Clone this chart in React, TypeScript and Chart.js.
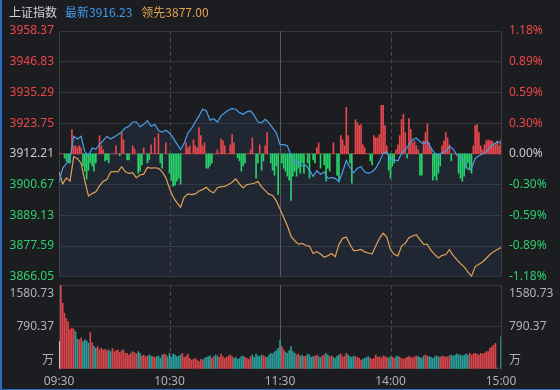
import React, { useEffect, useRef } from 'react';
import { Chart, registerables } from 'chart.js';

Chart.register(...registerables);

// ---------------- DATA ----------------
const INDEX_NAME = '上证指数';
const LAST_TEXT = '最新3916.23';
const LEAD_TEXT = '领先3877.00';

const priceTicks = [3866.05, 3877.59, 3889.13, 3900.67, 3912.21, 3923.75, 3935.29, 3946.83, 3958.37];
const priceTickLabels = ['3866.05', '3877.59', '3889.13', '3900.67', '3912.21', '3923.75', '3935.29', '3946.83', '3958.37'];
const pctTickLabels = ['-1.18%', '-0.89%', '-0.59%', '-0.30%', '0.00%', '0.30%', '0.59%', '0.89%', '1.18%'];
const BASE_INDEX = 4; // position of previous close in the tick list

const timeTicks = [0, 60, 120, 180, 240];
const timeLabels = ['09:30', '10:30', '11:30', '14:00', '15:00'];

const VOL_MAX = 1580.73;
const volTicks = [0, 790.37, 1580.73];
const volTickLabels = ['万', '790.37', '1580.73'];

const LINE_STEP = 2; // minutes between line samples

// 上证指数 (blue), every 2 minutes from 09:30
const indexLine = [
  3901.5, 3906.8, 3908.7, 3910.6, 3918.8, 3917.8, 3918.8, 3913.1, 3911.5, 3914.4,
  3914.0, 3915.7, 3917.3, 3918.8, 3917.8, 3918.6, 3919.5, 3920.4, 3922.0, 3922.6,
  3924.2, 3924.2, 3922.4, 3923.3, 3924.7, 3922.6, 3923.3, 3921.0, 3920.4, 3921.1,
  3920.1, 3918.2, 3916.0, 3913.8, 3916.3, 3920.1, 3921.8, 3924.2, 3926.5, 3929.0,
  3928.4, 3924.9, 3925.4, 3924.2, 3926.5, 3927.7, 3928.7, 3929.2, 3929.0, 3927.7,
  3927.1, 3928.0, 3928.4, 3926.7, 3924.2, 3923.9, 3925.2, 3923.9, 3922.0, 3920.1,
  3915.7, 3915.7, 3915.3, 3911.5, 3908.9, 3909.3, 3907.7, 3908.0, 3906.1, 3903.8,
  3905.9, 3904.6, 3905.5, 3903.0, 3903.3, 3903.0, 3901.7, 3905.5, 3909.7, 3907.2,
  3905.1, 3906.8, 3907.4, 3905.5, 3904.9, 3905.5, 3906.8, 3909.3, 3912.5, 3912.9,
  3910.0, 3910.0, 3909.6, 3912.5, 3913.7, 3915.7, 3917.6, 3918.2, 3916.9, 3916.0,
  3916.9, 3914.4, 3912.5, 3911.5, 3912.7, 3913.1, 3915.0, 3914.1, 3911.8, 3911.2,
  3909.3, 3906.4, 3906.8, 3910.6, 3911.5, 3912.2, 3913.0, 3914.8, 3915.7, 3916.8,
  3916.23,
];

// 领先指标 (orange), every 2 minutes from 09:30
const leadLine = [
  3905.5, 3901.0, 3903.2, 3902.0, 3911.2, 3910.4, 3908.7, 3902.1, 3896.4, 3897.3,
  3898.0, 3900.2, 3901.9, 3902.6, 3905.4, 3905.6, 3905.5, 3907.4, 3905.5, 3904.9,
  3905.2, 3903.3, 3904.3, 3904.6, 3907.1, 3906.9, 3907.0, 3906.8, 3905.5, 3903.3,
  3899.2, 3896.0, 3893.9, 3892.2, 3896.0, 3897.2, 3896.9, 3897.2, 3898.3, 3898.8,
  3899.7, 3898.3, 3897.6, 3899.5, 3899.9, 3900.0, 3900.7, 3901.6, 3902.8, 3900.9,
  3899.4, 3900.7, 3900.9, 3901.2, 3901.8, 3899.8, 3898.4, 3897.1, 3896.6, 3894.6,
  3891.5, 3888.4, 3885.2, 3881.2, 3879.6, 3878.3, 3878.6, 3877.8, 3877.6, 3874.8,
  3875.5, 3874.6, 3873.4, 3874.0, 3874.8, 3873.6, 3878.2, 3880.5, 3881.0, 3878.2,
  3875.9, 3876.0, 3876.3, 3875.4, 3875.0, 3874.6, 3877.6, 3880.5, 3882.4, 3881.0,
  3876.2, 3874.5, 3873.9, 3877.6, 3878.6, 3880.7, 3881.4, 3881.9, 3880.0, 3878.3,
  3878.2, 3876.0, 3874.5, 3873.1, 3874.1, 3874.4, 3876.2, 3874.1, 3872.5, 3871.0,
  3869.8, 3867.9, 3866.3, 3869.9, 3870.8, 3871.6, 3873.0, 3874.4, 3875.5, 3876.3,
  3877.0,
];

// buy / sell strength bars, one per minute (positive = red, negative = green)
const strength = [
  0, 0, 0, -4, -7, -9, -9, 24, 8, 8,
  6, 8, 6, -12, -17, -25, -16, -9, -12, -17,
  -9, 0, 18, 8, 4, -7, -6, -9, 0, 0,
  0, 8, 0, -2, 21, 14, 0, -6, -6, 0,
  8, 5, 0, -19, -17, -11, 6, 0, -9, -6,
  9, 0, 16, 0, 20, -9, -14, 0, 11, 0,
  -19, -26, -32, -31, -27, -24, -30, 0, 0, 11,
  6, 8, 0, 14, 8, 6, 26, 18, 8, 11,
  -14, -14, -12, -9, 0, 0, 4, 0, 15, 13,
  8, 0, 0, 9, 19, 11, 0, -4, -7, -17,
  -12, -9, 0, 0, 4, 16, 0, -24, -9, 9,
  -16, -7, 8, 21, 0, -9, -16, -21, -12, -40,
  0, -9, -14, -17, -22, -26, -46, -22, -17, -22,
  -14, -19, -9, -19, 0, -9, -24, 0, -6, -9,
  6, 11, -14, 0, -11, -27, -14, -17, 0, 11,
  0, -21, -26, 18, 14, 8, 46, 18, -9, -29,
  0, 34, 31, 28, 29, 9, 6, 0, 0, -7,
  -11, 18, 16, 16, 19, 48, 48, 28, 8, -16,
  -24, -12, -9, 4, 9, 18, 34, 39, 21, -4,
  35, 24, 11, 13, 8, 4, -21, -21, 13, 21,
  30, 11, 6, -26, -22, -26, -19, -12, 8, 13,
  21, 16, 9, -7, 0, 0, 0, -19, -24, -27,
  -22, -14, -9, -16, -19, 8, 28, 29, 21, 8,
  4, 9, 13, 14, 13, 13, 11, 9, 13, 8,
  14,
];

// volume per minute (万)
const volume = [
  515, 1581, 1240, 1050, 950, 890, 740, 770, 750, 700,
  560, 545, 580, 515, 546, 530, 483, 684, 496, 433,
  390, 420, 358, 389, 358, 370, 345, 358, 326, 389,
  326, 345, 358, 307, 345, 358, 295, 295, 264, 295,
  326, 307, 282, 326, 295, 245, 264, 232, 245, 264,
  245, 232, 220, 232, 245, 201, 264, 282, 264, 232,
  295, 220, 282, 264, 232, 245, 264, 295, 220, 245,
  282, 201, 169, 182, 201, 169, 138, 182, 169, 201,
  220, 232, 250, 201, 232, 264, 245, 220, 282, 232,
  201, 220, 245, 264, 232, 201, 220, 182, 201, 232,
  245, 220, 201, 182, 232, 264, 220, 282, 245, 232,
  264, 245, 232, 220, 264, 295, 282, 320, 345, 390,
  545, 420, 358, 320, 295, 345, 420, 326, 295, 264,
  282, 245, 264, 232, 245, 282, 264, 220, 232, 245,
  264, 232, 220, 245, 264, 295, 264, 232, 245, 220,
  201, 245, 264, 282, 232, 245, 295, 264, 232, 220,
  245, 232, 220, 201, 169, 182, 201, 220, 232, 201,
  182, 201, 264, 220, 232, 201, 245, 232, 220, 201,
  232, 220, 201, 232, 245, 220, 201, 182, 201, 220,
  232, 220, 201, 232, 245, 232, 220, 201, 245, 264,
  245, 232, 220, 201, 232, 245, 232, 220, 245, 232,
  220, 232, 245, 264, 245, 264, 282, 264, 264, 245,
  264, 282, 264, 295, 264, 282, 295, 282, 264, 295,
  282, 295, 326, 326, 389, 420, 452, 483, 20, 0,
  609,
];

const sessionMarks = [
  { minute: 60, solid: false },
  { minute: 120, solid: true },
  { minute: 180, solid: false },
];

// ---------------- STYLE ----------------
const BG = '#1c1d21';
const GRID = '#313439';
const FRAME = '#3a3d42';
const RED = '#ef4646';
const GREEN = '#2ecf6c';
const NEUTRAL = '#c6c9ce';
const AXIS_TXT = '#aeb1b6';
const AXIS_W = 59;
const FONT = '"Noto Sans", "Noto Sans CJK SC", sans-serif';

function tickColor(i: number) {
  if (i === BASE_INDEX) return NEUTRAL;
  return i > BASE_INDEX ? RED : GREEN;
}

function volColor(i: number) {
  if (i === 0) return '#e4e4e4';
  const a = indexLine[Math.floor((i - 1) / LINE_STEP)];
  const b = indexLine[Math.ceil(i / LINE_STEP)];
  return b >= a ? '#d8464b' : '#2a9d99';
}

const sessionPlugin = {
  id: 'sessionLines',
  beforeDatasetsDraw(chart: any) {
    const { ctx, chartArea, scales } = chart;
    const xs = scales.x;
    ctx.save();
    ctx.lineWidth = 1;
    sessionMarks.forEach((m) => {
      const px = Math.round(xs.getPixelForValue(m.minute)) + 0.5;
      ctx.strokeStyle = m.solid ? '#575a60' : '#45484e';
      ctx.setLineDash(m.solid ? [] : [4, 3]);
      ctx.beginPath();
      ctx.moveTo(px, chartArea.top);
      ctx.lineTo(px, chartArea.bottom);
      ctx.stroke();
    });
    ctx.restore();
  },
};

const volLabelPlugin = {
  id: 'volLabels',
  afterDraw(chart: any) {
    const { ctx, chartArea, scales } = chart;
    const ys = scales.y;
    const shifts = [-8, 0, 9];
    ctx.save();
    ctx.font = `12px ${FONT}`;
    ctx.fillStyle = AXIS_TXT;
    ctx.textBaseline = 'middle';
    volTicks.forEach((v, i) => {
      const py = ys.getPixelForValue(v) + shifts[i];
      ctx.textAlign = 'right';
      ctx.fillText(volTickLabels[i], chartArea.left - 5, py);
      ctx.textAlign = 'left';
      ctx.fillText(volTickLabels[i], chartArea.right + 8, py);
    });
    ctx.restore();
  },
};

export default function App() {
  const priceRef = useRef<HTMLCanvasElement>(null);
  const volRef = useRef<HTMLCanvasElement>(null);

  useEffect(() => {
    const font = { family: FONT, size: 12 };
    const priceChart = new Chart(priceRef.current as HTMLCanvasElement, {
      type: 'bar',
      data: {
        datasets: [
          {
            type: 'line',
            label: INDEX_NAME,
            data: indexLine.map((v, i) => ({ x: i * LINE_STEP, y: v })),
            yAxisID: 'y',
            borderColor: '#4a9de6',
            borderWidth: 1.2,
            pointRadius: 0,
            tension: 0,
            fill: 'start',
            backgroundColor: 'rgba(70,130,205,0.10)',
            order: 1,
          } as any,
          {
            type: 'line',
            label: 'lead',
            data: leadLine.map((v, i) => ({ x: i * LINE_STEP, y: v })),
            yAxisID: 'y',
            borderColor: '#e2a254',
            borderWidth: 1.2,
            pointRadius: 0,
            tension: 0,
            fill: false,
            order: 2,
          } as any,
          {
            type: 'bar',
            label: 'strength',
            data: strength.map((v, i) => ({ x: i, y: v })),
            yAxisID: 'ys',
            backgroundColor: (c: any) => (c.raw && c.raw.y >= 0 ? '#e8474b' : '#27d36b'),
            barThickness: 1,
            grouped: false,
            order: 3,
          } as any,
        ],
      },
      options: {
        responsive: false,
        animation: false,
        devicePixelRatio: 1,
        events: [],
        layout: { padding: { top: 31, bottom: 5, left: 0, right: 0 } },
        plugins: {
          legend: { display: false },
          tooltip: { enabled: false },
          filler: { drawTime: 'beforeDatasetsDraw' },
        } as any,
        scales: {
          x: { type: 'linear', min: 0, max: 240, display: false, offset: false },
          y: {
            type: 'linear',
            position: 'left',
            min: priceTicks[0],
            max: priceTicks[priceTicks.length - 1],
            afterBuildTicks: (s: any) => { s.ticks = priceTicks.map((v) => ({ value: v })); },
            afterFit: (s: any) => { s.width = AXIS_W; },
            grid: { color: GRID, drawTicks: false },
            border: { display: true, color: FRAME },
            ticks: {
              padding: 5,
              font,
              color: (c: any) => tickColor(c.index),
              callback: (_v: any, i: number) => priceTickLabels[i],
            },
          },
          yr: {
            type: 'linear',
            position: 'right',
            min: priceTicks[0],
            max: priceTicks[priceTicks.length - 1],
            afterBuildTicks: (s: any) => { s.ticks = priceTicks.map((v) => ({ value: v })); },
            afterFit: (s: any) => { s.width = AXIS_W; },
            grid: { drawOnChartArea: false, drawTicks: false },
            border: { display: true, color: FRAME },
            ticks: {
              padding: 8,
              font,
              color: (c: any) => tickColor(c.index),
              callback: (_v: any, i: number) => pctTickLabels[i],
            },
          },
          ys: { type: 'linear', display: false, min: -121.5, max: 121.5 },
        } as any,
      },
      plugins: [sessionPlugin],
    });

    const volChart = new Chart(volRef.current as HTMLCanvasElement, {
      type: 'bar',
      data: {
        datasets: [
          {
            label: 'volume',
            data: volume.map((v, i) => ({ x: i, y: v })),
            backgroundColor: (c: any) => volColor(c.dataIndex),
            barThickness: 1,
            grouped: false,
          } as any,
        ],
      },
      options: {
        responsive: false,
        animation: false,
        devicePixelRatio: 1,
        events: [],
        layout: { padding: { top: 5, bottom: 0, left: 0, right: 0 } },
        plugins: { legend: { display: false }, tooltip: { enabled: false } },
        scales: {
          x: {
            type: 'linear',
            min: 0,
            max: 240,
            offset: false,
            afterBuildTicks: (s: any) => { s.ticks = timeTicks.map((v) => ({ value: v })); },
            afterFit: (s: any) => { s.height = 21; },
            grid: { display: false, drawTicks: false },
            border: { display: false },
            ticks: {
              padding: 5,
              autoSkip: false,
              maxRotation: 0,
              color: AXIS_TXT,
              font,
              callback: (_v: any, i: number) => timeLabels[i],
            },
          },
          y: {
            type: 'linear',
            position: 'left',
            min: 0,
            max: VOL_MAX,
            afterBuildTicks: (s: any) => { s.ticks = volTicks.map((v) => ({ value: v })); },
            afterFit: (s: any) => { s.width = AXIS_W; },
            grid: { color: (c: any) => (c.tick && c.tick.value === 0 ? 'rgba(0,0,0,0)' : GRID), drawTicks: false },
            border: { display: true, color: FRAME },
            ticks: { display: false },
          },
          yr: {
            type: 'linear',
            position: 'right',
            min: 0,
            max: VOL_MAX,
            afterFit: (s: any) => { s.width = AXIS_W; },
            grid: { drawOnChartArea: false, drawTicks: false },
            border: { display: true, color: FRAME },
            ticks: { display: false },
          },
        } as any,
      },
      plugins: [sessionPlugin, volLabelPlugin],
    });

    return () => {
      priceChart.destroy();
      volChart.destroy();
    };
  }, []);

  return (
    <div
      style={{
        position: 'fixed',
        left: 0,
        top: 0,
        width: 560,
        height: 390,
        background: BG,
        overflow: 'hidden',
        fontFamily: '"Noto Sans CJK SC", "Noto Sans", sans-serif',
      }}
    >
      <canvas ref={volRef} width={560} height={110} style={{ position: 'absolute', left: 0, top: 280, width: 560, height: 110 }} />
      <canvas ref={priceRef} width={560} height={292} style={{ position: 'absolute', left: 0, top: 0, width: 560, height: 292 }} />
      <div
        style={{
          position: 'absolute',
          left: 9,
          top: 0,
          height: 24,
          lineHeight: '24px',
          fontSize: 12,
          whiteSpace: 'nowrap',
        }}
      >
        <span style={{ color: '#cfd2d6' }}>{INDEX_NAME}</span>
        <span style={{ color: '#3f9bef', marginLeft: 8 }}>{LAST_TEXT}</span>
        <span style={{ color: '#e2a052', marginLeft: 9 }}>{LEAD_TEXT}</span>
      </div>
      <div style={{ position: 'absolute', left: 0, top: 0, width: 2, height: 390, background: '#2b6cc2' }} />
      <div style={{ position: 'absolute', left: 0, bottom: 0, width: 560, height: 1, background: '#2b6cc2' }} />
    </div>
  );
}
